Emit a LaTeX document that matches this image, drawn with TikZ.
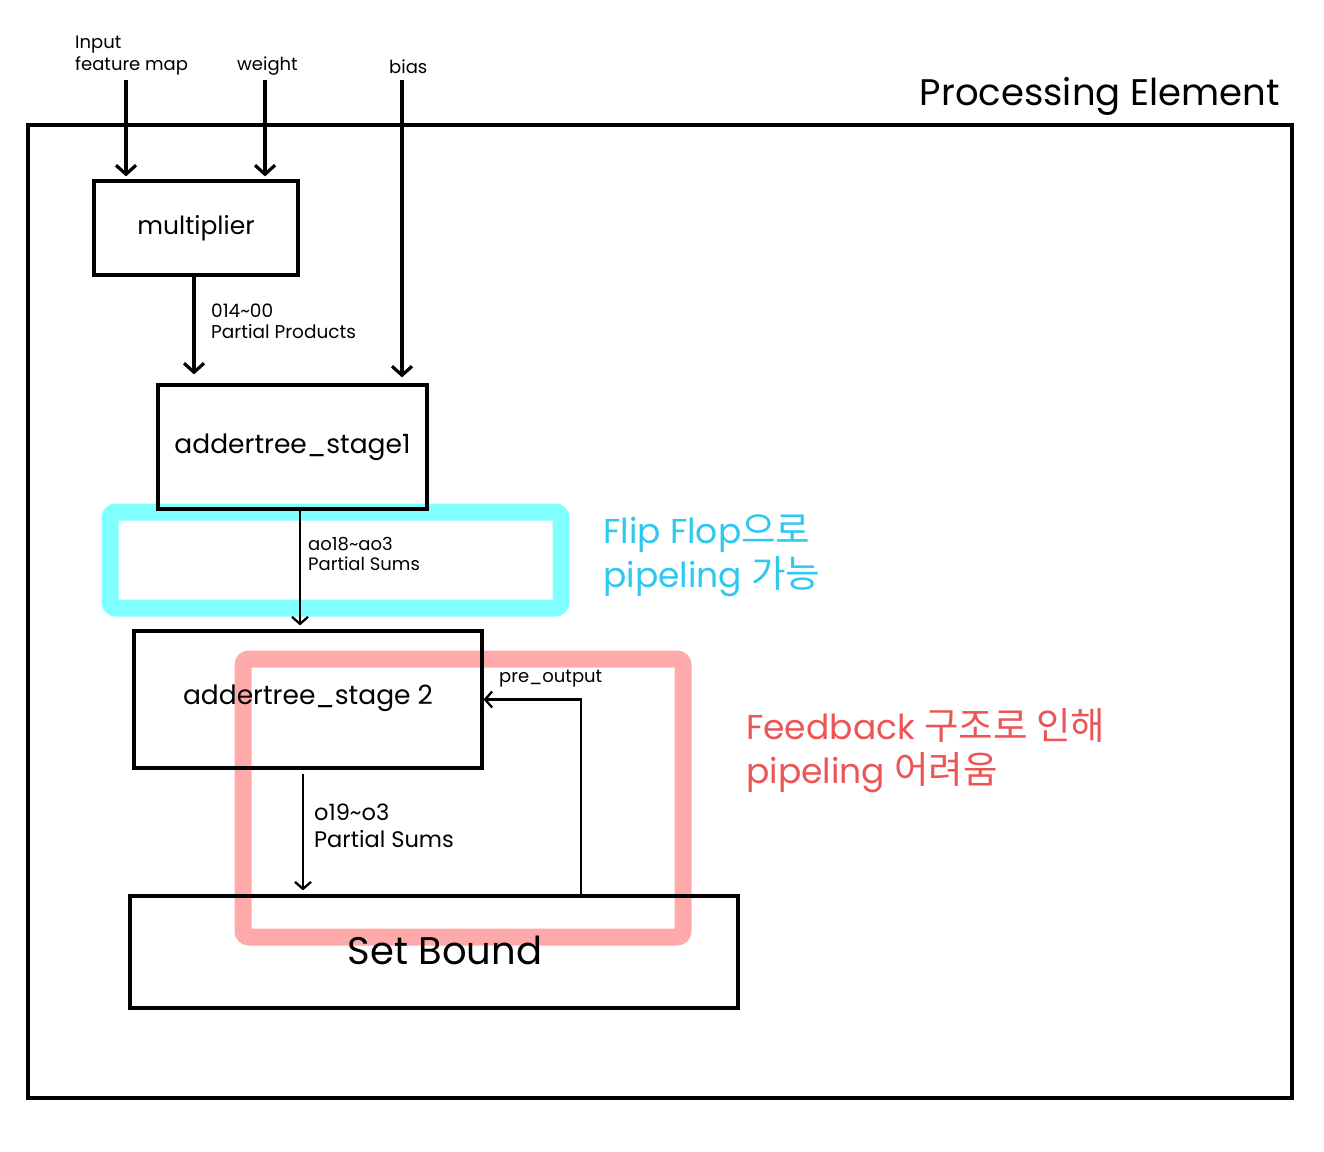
\documentclass[tikz,border=0pt]{standalone}
\usepackage{fontspec}
\setmainfont{Poppins}
\newfontfamily\kr{Noto Sans CJK KR}
\usetikzlibrary{arrows.meta}
\definecolor{cyanhl}{RGB}{128,255,255}
\definecolor{pinkhl}{RGB}{255,170,170}
\definecolor{cyantext}{RGB}{45,200,240}
\definecolor{redtext}{RGB}{235,85,85}
\newcommand{\fs}[2]{\fontsize{#1}{#2}\selectfont}
\tikzset{
  x=1pt, y=-1pt,
  box/.style={draw=black, line width=3.2pt, inner sep=0pt},
  thick arrow/.style={line width=3.2pt, -{Straight Barb[length=9pt,width=20pt,line width=3.2pt]}},
  thin arrow/.style={line width=2.3pt, -{Straight Barb[length=7pt,width=16pt,line width=2.3pt]}},
  lbl/.style={anchor=base west, inner sep=0pt, align=left},
  hl/.style={line width=17pt, rounded corners=6pt},
}
\begin{document}
\begin{tikzpicture}
\useasboundingbox (0,0) rectangle (1324,1151);
% highlight frames
\draw[hl, cyanhl] (110,512) rectangle (561,608);
\draw[hl, pinkhl] (243,659) rectangle (683,937);
% outer element
\node[box, minimum width=1264pt, minimum height=973pt] (pe) at (660,611.5) {};
\node[anchor=base east, inner sep=0pt, font=\fs{37}{44}] (pelbl) at (1280,105) {Processing Element};
% blocks
\node[box, minimum width=204pt, minimum height=94pt, font=\fs{25}{30}] (mult) at (196,228) {\raisebox{-4pt}{multiplier}};
\node[box, minimum width=269pt, minimum height=124pt, font=\fs{26.5}{30}] (st1) at (292.5,447) {\raisebox{-3pt}{addertree\_stage1}};
\node[box, minimum width=348pt, minimum height=137pt, font=\fs{26.5}{30}] (st2) at (308,699.5) {\raisebox{9pt}{addertree\_stage 2}};
\node[box, minimum width=608pt, minimum height=112pt, font=\fs{38.5}{44}] (sb) at (434,952) {\hspace*{22pt}\raisebox{4pt}{Set Bound}};
% inputs
\coordinate (ifm) at (126,80);
\coordinate (wgt) at (265,80);
\coordinate (bia) at (402,80);
\node[lbl, font=\fs{18}{22}] (ifmlbl) at (75,70) {Input\\feature map};
\node[lbl, font=\fs{18}{22}] (wgtlbl) at (237,70) {weight};
\node[lbl, font=\fs{18}{22}] (bialbl) at (389,73) {bias};
\draw[thick arrow, shorten >=3pt] (ifm) -- (ifm |- mult.north);
\draw[thick arrow, shorten >=3pt] (wgt) -- (wgt |- mult.north);
\draw[thick arrow, shorten >=6pt] (bia) -- (bia |- st1.north);
% multiplier -> stage1
\coordinate (m1) at (194,0);
\draw[thick arrow, shorten >=9pt] (mult.south -| m1) -- (st1.north -| m1);
\node[lbl, font=\fs{18.5}{21}] (pplbl) at (211,338) {014\textasciitilde 00\\Partial Products};
% stage1 -> stage2
\coordinate (m2) at (300,0);
\draw[thin arrow, shorten >=4pt] (st1.south -| m2) -- (st2.north -| m2);
\node[lbl, font=\fs{18}{20}] (ps1lbl) at (308,570) {ao18\textasciitilde ao3\\Partial Sums};
% stage2 -> set bound
\coordinate (m3) at (303,0);
\draw[thin arrow, shorten <=4pt, shorten >=4pt] (st2.south -| m3) -- (sb.north -| m3);
\node[lbl, font=\fs{22.5}{27}] (ps2lbl) at (314,847) {o19\textasciitilde o3\\Partial Sums};
% feedback
\coordinate (fb) at (581,0);
\draw[thin arrow] (sb.north -| fb) |- (st2.east);
\node[lbl, font=\fs{18}{20}] (prelbl) at (499,682) {pre\_output};
% notes
\node[lbl, font=\fs{34.5}{44}, text=cyantext] (ffnote) at (603,587) {Flip Flop{\kr\fs{37.5}{44}으로}\\pipeling {\kr\fs{37.5}{44}가능}};
\node[lbl, font=\fs{34.5}{44}, text=redtext] (fbnote) at (746,783) {Feedback {\kr\fs{37.5}{44}구조로 인해}\\pipeling {\kr\fs{37.5}{44}어려움}};
\end{tikzpicture}
\end{document}
